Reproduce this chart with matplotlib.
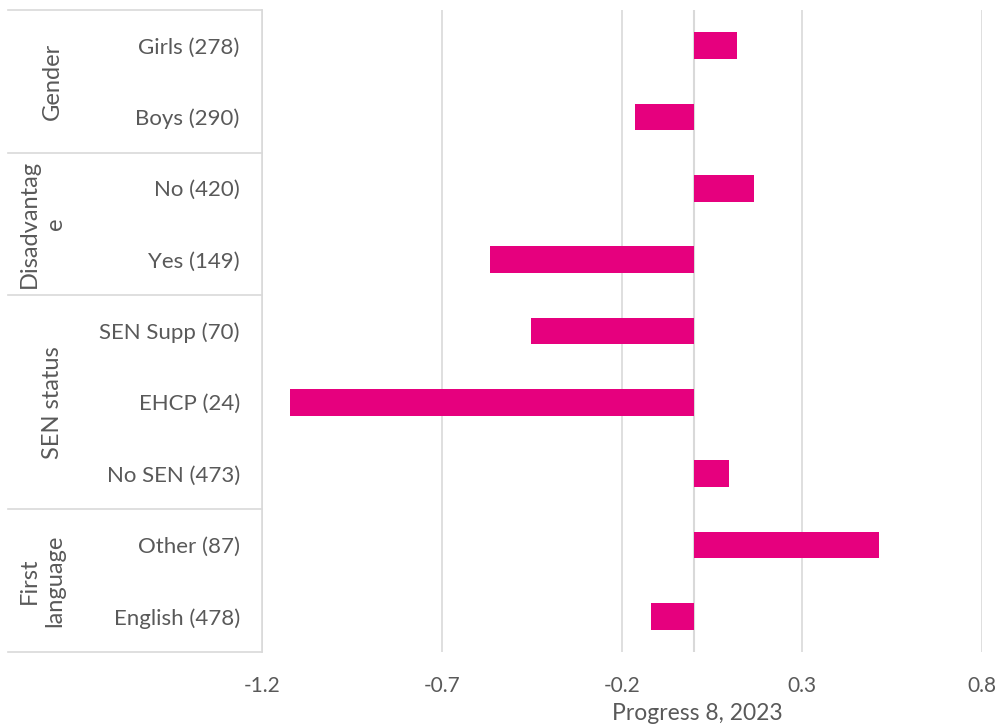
import matplotlib.pyplot as plt
import matplotlib.transforms as mtransforms

# data
groups = ["Gender", "Disadvantag\ne", "SEN status", "First\nlanguage"]
group_sizes = [2, 2, 3, 2]
categories = ["Girls (278)", "Boys (290)", "No (420)", "Yes (149)",
              "SEN Supp (70)", "EHCP (24)", "No SEN (473)",
              "Other (87)", "English (478)"]
values = [0.12, -0.165, 0.167, -0.567, -0.453, -1.122, 0.097, 0.514, -0.119]
xticks = [-1.2, -0.7, -0.2, 0.3, 0.8]

plt.rcParams['font.family'] = ['Lato', 'DejaVu Sans']
grey = '#595959'
line_grey = '#d9d9d9'

fig = plt.figure(figsize=(9.99, 7.27), dpi=100)
W, H = 999, 727
ax = fig.add_axes([262 / W, (H - 652) / H, 720 / W, 642 / H])

ypos = list(range(len(categories)))
ax.barh(ypos, values, height=0.37, color='#E6007E', zorder=3)

ax.set_xlim(-1.2, 0.8)
ax.set_ylim(len(categories) - 0.5, -0.5)
ax.set_xticks(xticks)
ax.set_xticklabels([f"{t:g}" for t in xticks])
ax.set_yticks(ypos)
ax.set_yticklabels(categories)
ax.tick_params(axis='x', length=0, pad=17, labelsize=15, labelcolor=grey)
ax.tick_params(axis='y', length=0, pad=16, labelsize=16, labelcolor=grey)

for t in xticks:
    ax.axvline(t, color=line_grey, lw=1.2, zorder=1)
ax.axvline(0, color=line_grey, lw=1.5, zorder=2)
for s in ax.spines.values():
    s.set_visible(False)

# group separators and labels on the left
trans = mtransforms.blended_transform_factory(ax.transAxes, ax.transData)
x_left = (8 - 262) / 720
ax.plot([0, 0], [-0.5, len(categories) - 0.5], color=line_grey, lw=1.2,
        transform=trans, clip_on=False)
edge = -0.5
ax.plot([x_left, 0], [edge, edge], color=line_grey, lw=1.2,
        transform=trans, clip_on=False)
for name, size in zip(groups, group_sizes):
    mid = edge + size / 2
    xc = 52 if '\n' not in name else 42
    ax.text((xc - 262) / 720, mid, name, transform=trans, rotation=90,
            ha='center', va='center', fontsize=17, color=grey,
            multialignment='center', linespacing=1.3)
    edge += size
    ax.plot([x_left, 0], [edge, edge], color=line_grey, lw=1.2,
            transform=trans, clip_on=False)

fig.text(697 / W, 1 - 703 / H, "Progress 8, 2023", ha='center', va='top',
         fontsize=16.5, color=grey)

fig.savefig("out.png", dpi=100)
